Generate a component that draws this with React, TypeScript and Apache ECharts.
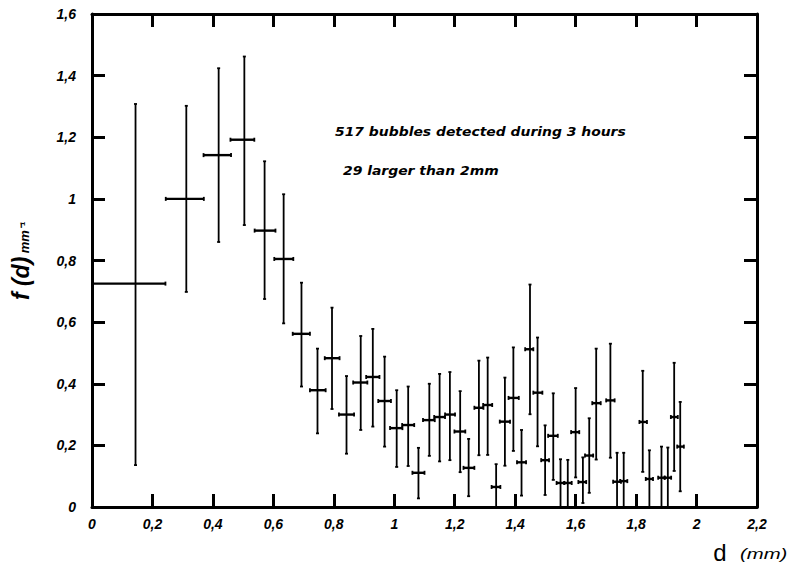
import React, { useEffect, useRef } from "react";
import * as echarts from "echarts";

// bubble diameter d (mm): point position and bin edges
const binCenter = [0.144, 0.312, 0.419, 0.504, 0.571, 0.634, 0.693, 0.746, 0.794, 0.842, 0.889, 0.929, 0.968, 1.008, 1.046, 1.080, 1.116, 1.150, 1.184, 1.218, 1.246, 1.280, 1.309, 1.337, 1.366, 1.394, 1.421, 1.449, 1.474, 1.499, 1.526, 1.550, 1.574, 1.600, 1.624, 1.645, 1.668, 1.715, 1.737, 1.759, 1.822, 1.844, 1.884, 1.905, 1.926, 1.946];
const binLow = [0.0, 0.244, 0.369, 0.458, 0.538, 0.603, 0.664, 0.721, 0.770, 0.817, 0.864, 0.907, 0.947, 0.986, 1.026, 1.060, 1.095, 1.132, 1.168, 1.199, 1.229, 1.265, 1.294, 1.322, 1.349, 1.378, 1.406, 1.433, 1.460, 1.486, 1.509, 1.537, 1.562, 1.585, 1.609, 1.631, 1.655, 1.701, 1.724, 1.747, 1.811, 1.832, 1.873, 1.894, 1.915, 1.936];
const binHigh = [0.243, 0.370, 0.460, 0.537, 0.607, 0.666, 0.721, 0.773, 0.819, 0.867, 0.911, 0.951, 0.989, 1.027, 1.066, 1.100, 1.134, 1.168, 1.201, 1.235, 1.265, 1.295, 1.324, 1.351, 1.383, 1.412, 1.436, 1.460, 1.490, 1.512, 1.541, 1.563, 1.587, 1.612, 1.635, 1.658, 1.683, 1.729, 1.750, 1.771, 1.836, 1.856, 1.895, 1.916, 1.938, 1.958];
// f(d) (mm^-1) and error bar ends
const fValue = [0.725, 1.0, 1.142, 1.192, 0.897, 0.805, 0.562, 0.379, 0.483, 0.300, 0.404, 0.422, 0.344, 0.256, 0.266, 0.111, 0.282, 0.292, 0.300, 0.245, 0.127, 0.322, 0.331, 0.065, 0.277, 0.354, 0.145, 0.512, 0.371, 0.152, 0.231, 0.078, 0.078, 0.243, 0.081, 0.167, 0.337, 0.346, 0.082, 0.084, 0.276, 0.091, 0.095, 0.095, 0.292, 0.196];
const errLow = [0.136, 0.698, 0.860, 0.915, 0.675, 0.596, 0.391, 0.239, 0.318, 0.173, 0.250, 0.261, 0.196, 0.130, 0.133, 0.028, 0.166, 0.148, 0.152, 0.113, 0.035, 0.168, 0.169, 0.0, 0.134, 0.182, 0.037, 0.301, 0.197, 0.039, 0.088, 0.0, 0.0, 0.096, 0.013, 0.046, 0.154, 0.160, 0.0, 0.0, 0.114, 0.0, 0.0, 0.0, 0.117, 0.051];
const errHigh = [1.308, 1.302, 1.424, 1.462, 1.122, 1.015, 0.728, 0.514, 0.647, 0.425, 0.555, 0.578, 0.488, 0.379, 0.391, 0.192, 0.400, 0.432, 0.438, 0.376, 0.221, 0.475, 0.485, 0.139, 0.420, 0.518, 0.250, 0.722, 0.550, 0.265, 0.369, 0.155, 0.153, 0.386, 0.161, 0.288, 0.514, 0.530, 0.176, 0.176, 0.442, 0.184, 0.196, 0.193, 0.468, 0.341];

const xTicks = { min: 0, max: 2.2, interval: 0.2 };
const yTicks = { min: 0, max: 1.6, interval: 0.2 };

const annotation1 = "517 bubbles detected during 3 hours";
const annotation2 = "29 larger than 2mm";

const fmt = (v: number) =>
  v === 0 ? "0" : String(parseFloat(v.toFixed(1))).replace(".", ",");

const FONT = "'Liberation Sans', Arial, sans-serif";

export default function App() {
  const ref = useRef<HTMLDivElement>(null);
  useEffect(() => {
    if (!ref.current) return;
    const chart = echarts.init(ref.current, null, { renderer: "svg" });
    const data = binCenter.map((x, i) => [x, fValue[i], binLow[i], binHigh[i], errLow[i], errHigh[i]]);

    const axisCommon = {
      axisLine: { show: true, onZero: false, lineStyle: { color: "#000", width: 3 } },
      axisTick: { show: true, inside: true, length: 13, lineStyle: { color: "#000", width: 3 } },
      splitLine: { show: false },
    };
    const labelStyle = {
      color: "#000",
      fontSize: 14,
      fontStyle: "italic" as const,
      fontWeight: "bold" as const,
      fontFamily: FONT,
      formatter: fmt,
    };

    const annFont = {
      fill: "#000",
      fontSize: 12,
      fontStyle: "italic",
      fontWeight: "bold",
      fontFamily: "'DejaVu Sans', sans-serif",
      verticalAlign: "middle",
    };

    chart.setOption({
      animation: false,
      backgroundColor: "#fff",
      grid: { left: 92, top: 14, right: 38, bottom: 59, containLabel: false },
      xAxis: [
        { type: "value", position: "bottom", ...xTicks, ...axisCommon, axisLabel: { ...labelStyle, margin: 10 } },
        { type: "value", position: "top", ...xTicks, ...axisCommon, axisLabel: { show: false } },
      ],
      yAxis: [
        { type: "value", position: "left", ...yTicks, ...axisCommon, axisLabel: { ...labelStyle, margin: 16 } },
        { type: "value", position: "right", ...yTicks, ...axisCommon, axisLabel: { show: false } },
      ],
      series: [
        {
          type: "custom",
          xAxisIndex: 0,
          yAxisIndex: 0,
          data,
          renderItem: (params: any, api: any) => {
            const x = api.value(0), y = api.value(1);
            const xl = api.value(2), xh = api.value(3);
            const yl = api.value(4), yh = api.value(5);
            const c = api.coord([x, y]);
            const pl = api.coord([xl, y]);
            const ph = api.coord([xh, y]);
            const pb = api.coord([x, yl]);
            const pt = api.coord([x, yh]);
            const st = { stroke: "#000", lineWidth: 1.8 };
            const sh = { stroke: "#000", lineWidth: 2.4 };
            return {
              type: "group",
              children: [
                { type: "line", shape: { x1: c[0], y1: pb[1], x2: c[0], y2: pt[1] }, style: st },
                { type: "line", shape: { x1: pl[0], y1: c[1], x2: ph[0], y2: c[1] }, style: sh },
                { type: "line", shape: { x1: c[0] - 1.5, y1: pt[1], x2: c[0] + 1.5, y2: pt[1] }, style: st },
                { type: "line", shape: { x1: c[0] - 1.5, y1: pb[1], x2: c[0] + 1.5, y2: pb[1] }, style: st },
                { type: "line", shape: { x1: pl[0], y1: c[1] - 2, x2: pl[0], y2: c[1] + 2 }, style: st },
                { type: "line", shape: { x1: ph[0], y1: c[1] - 2, x2: ph[0], y2: c[1] + 2 }, style: st },
              ],
            };
          },
        },
      ],
      graphic: [
        {
          type: "text",
          x: 335,
          y: 132,
          scaleX: 1.16,
          style: { text: annotation1, ...annFont },
        },
        {
          type: "text",
          x: 343,
          y: 171,
          scaleX: 1.16,
          style: { text: annotation2, ...annFont },
        },
        {
          type: "text",
          x: 21,
          y: 261,
          rotation: Math.PI / 2,
          style: {
            text: "{a|f (d)} {b|mm⁻¹}",
            align: "center",
            verticalAlign: "middle",
            rich: {
              a: { fontSize: 23, fontStyle: "italic", fontWeight: "bold", fontFamily: FONT, fill: "#000" },
              b: { fontSize: 13, fontStyle: "italic", fontWeight: "bold", fontFamily: FONT, fill: "#000", padding: [6, 0, 0, 0] },
            },
          },
        },
        {
          type: "text",
          x: 720,
          y: 552,
          style: {
            text: "d",
            align: "center",
            verticalAlign: "middle",
            fontSize: 24,
            fontFamily: FONT,
            fill: "#000",
          },
        },
        {
          type: "text",
          x: 740,
          y: 554,
          scaleX: 1.45,
          style: {
            text: "(mm)",
            align: "left",
            verticalAlign: "middle",
            fontSize: 14,
            fontStyle: "italic",
            fontFamily: FONT,
            fill: "#000",
          },
        },
      ],
    });
    return () => chart.dispose();
  }, []);
  return <div ref={ref} style={{ width: 795, height: 566, position: "absolute", left: 0, top: 0 }} />;
}
